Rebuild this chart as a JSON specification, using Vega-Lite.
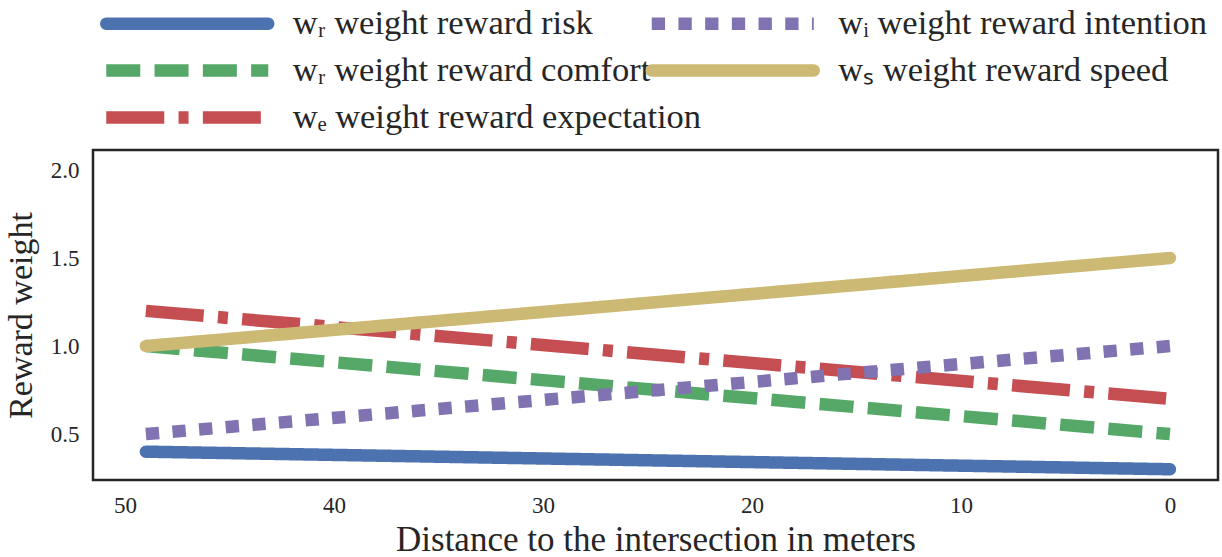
{
  "$schema": "https://vega.github.io/schema/vega-lite/v6.json",
  "width": 1125,
  "height": 330,
  "autosize": {"type": "none"},
  "padding": {"left": 93, "top": 150, "right": 4, "bottom": 77},
  "background": "white",
  "config": {
    "font": "Liberation Serif",
    "view": {"stroke": "#262626", "strokeWidth": 2.5},
    "axis": {"grid": false, "ticks": false, "domain": false, "labelFont": "Liberation Serif", "titleFont": "Liberation Serif", "labelColor": "#262626", "titleColor": "#262626", "titleFontWeight": "normal", "labelFontSize": 23, "titleFontSize": 34},
    "legend": {"labelFont": "Liberation Serif", "labelFontSize": 34.5, "labelColor": "#262626", "labelLimit": 1000, "padding": 0, "symbolType": "M-5.4,0H5.4", "symbolSize": 900, "symbolStrokeWidth": 12.5, "labelOffset": 84, "columnPadding": -75.5, "rowPadding": -15}
  },
  "data": {"values": [
    {"d": 49, "w": 0.4, "s": "wᵣ weight reward risk"},
    {"d": 0, "w": 0.3, "s": "wᵣ weight reward risk"},
    {"d": 49, "w": 1.0, "s": "wᵣ weight reward comfort"},
    {"d": 0, "w": 0.5, "s": "wᵣ weight reward comfort"},
    {"d": 49, "w": 1.2, "s": "wₑ weight reward expectation"},
    {"d": 0, "w": 0.7, "s": "wₑ weight reward expectation"},
    {"d": 49, "w": 0.5, "s": "wᵢ weight reward intention"},
    {"d": 0, "w": 1.0, "s": "wᵢ weight reward intention"},
    {"d": 49, "w": 1.0, "s": "wₛ weight reward speed"},
    {"d": 0, "w": 1.5, "s": "wₛ weight reward speed"}
  ]},
  "encoding": {
    "x": {"field": "d", "type": "quantitative", "scale": {"domain": [51.53, -2.3], "nice": false, "zero": false}, "axis": {"values": [50, 40, 30, 20, 10, 0], "format": "d", "labelPadding": 14, "title": "Distance to the intersection in meters", "titlePadding": 5, "titleFontSize": 35}},
    "y": {"field": "w", "type": "quantitative", "scale": {"domain": [0.239, 2.114], "nice": false, "zero": false}, "axis": {"values": [0.5, 1.0, 1.5, 2.0], "format": ".1f", "labelPadding": 14, "title": "Reward weight", "titlePadding": 12}},
    "order": {"field": "d", "type": "quantitative", "sort": "descending"},
    "color": {"field": "s", "type": "nominal", "scale": {"domain": ["wᵣ weight reward risk", "wᵣ weight reward comfort", "wₑ weight reward expectation", "wᵢ weight reward intention", "wₛ weight reward speed"], "range": ["#4C72B0", "#55A868", "#C44E52", "#8172B2", "#CCB974"]}, "legend": {"title": null, "orient": "none", "legendX": 72.75, "legendY": -148, "columns": 2, "encode": {"symbols": {"update": {"strokeCap": {"signal": "indexof(['wᵣ weight reward risk','wₛ weight reward speed'], datum.value) >= 0 ? 'round' : 'butt'"}}}}}},
    "strokeDash": {"field": "s", "type": "nominal", "scale": {"domain": ["wᵣ weight reward risk", "wᵣ weight reward comfort", "wₑ weight reward expectation", "wᵢ weight reward intention", "wₛ weight reward speed"], "range": [[1, 0], [34, 14.3], [58, 14.3, 10, 14.3], [13.3, 13.4], [1, 0]]}, "legend": {"title": null, "orient": "none", "legendX": 72.75, "legendY": -148, "columns": 2, "encode": {"symbols": {"update": {"strokeCap": {"signal": "indexof(['wᵣ weight reward risk','wₛ weight reward speed'], datum.value) >= 0 ? 'round' : 'butt'"}}}}}}
  },
  "layer": [
    {"transform": [{"filter": "datum.s == 'wᵣ weight reward risk'"}], "mark": {"type": "line", "strokeWidth": 12.5, "strokeCap": "round"}},
    {"transform": [{"filter": "datum.s == 'wᵣ weight reward comfort' || datum.s == 'wₑ weight reward expectation' || datum.s == 'wᵢ weight reward intention'"}], "mark": {"type": "line", "strokeWidth": 12.5, "strokeCap": "butt"}},
    {"transform": [{"filter": "datum.s == 'wₛ weight reward speed'"}], "mark": {"type": "line", "strokeWidth": 12.5, "strokeCap": "round"}}
  ]
}
